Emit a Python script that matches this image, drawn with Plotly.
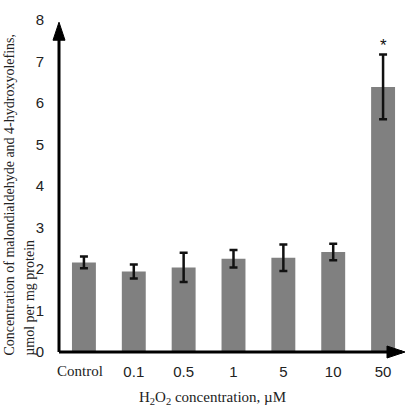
import plotly.graph_objects as go

categories = ["Control", "0.1", "0.5", "1", "5", "10", "50"]
values = [2.16, 1.94, 2.04, 2.25, 2.27, 2.41, 6.39]
errors = [0.14, 0.17, 0.35, 0.21, 0.32, 0.20, 0.78]
y_ticks = [0, 1, 2, 3, 4, 5, 6, 7, 8]
star_labels = ["", "", "", "", "", "", "*"]
serif_labels = ["Control"]

W, H = 408, 415
x_pos = list(range(len(categories)))
X_RANGE = [-0.5, 6.5]
Y_RANGE = [0, 8.1]

serif = "Liberation Serif, Times New Roman, serif"
sans = "Liberation Sans, Arial, sans-serif"

fig = go.Figure()
fig.add_trace(go.Bar(
    x=x_pos, y=values, width=0.48,
    marker=dict(color="#808080", line=dict(width=0)),
    error_y=dict(type="data", array=errors, visible=True, color="#111111", thickness=2.5, width=4),
    showlegend=False,
))


def px_x(v):
    return (v - X_RANGE[0]) / (X_RANGE[1] - X_RANGE[0])


def py_y(v):
    return (v - Y_RANGE[0]) / (Y_RANGE[1] - Y_RANGE[0])


annotations = []
for i, s in enumerate(star_labels):
    if s:
        annotations.append(dict(x=i, y=values[i] + errors[i], text=s, showarrow=False,
                                yanchor="bottom", yshift=-2, font=dict(family=sans, size=17, color="#111")))

tick_text = []
for i, c in enumerate(categories):
    if c in serif_labels:
        tick_text.append("")
        annotations.append(dict(xref="x", yref="paper", x=i - 0.08, y=-0.058, yanchor="middle",
                                showarrow=False, text=c,
                                font=dict(family=serif, size=15, color="#222")))
    else:
        tick_text.append(c)

# y-axis title (two left-aligned rotated lines)
annotations.append(dict(xref="paper", yref="paper", x=-0.141, y=-0.017, xanchor="center", yanchor="bottom",
                        textangle=-90, showarrow=False,
                        text="Concentration of malondialdehyde and 4-hydroxyolefins,",
                        font=dict(family=serif, size=14, color="#222")))
annotations.append(dict(xref="paper", yref="paper", x=-0.083, y=-0.017, xanchor="center", yanchor="bottom",
                        textangle=-90, showarrow=False,
                        text="\u00b5mol per mg protein",
                        font=dict(family=serif, size=14, color="#222")))
# x-axis title
annotations.append(dict(xref="paper", yref="paper", x=px_x(2.57), y=-0.137, xanchor="center", yanchor="middle",
                        showarrow=False,
                        text="H<sub>2</sub>O<sub>2</sub> concentration, \u00b5M",
                        font=dict(family=serif, size=15, color="#222")))

x0p, y0p = px_x(-0.5), py_y(0)
shapes = [
    dict(type="line", xref="paper", yref="paper", x0=x0p, x1=px_x(6.38), y0=y0p, y1=y0p,
         line=dict(color="#000", width=3)),
    dict(type="line", xref="paper", yref="paper", x0=x0p, x1=x0p, y0=y0p, y1=py_y(7.6),
         line=dict(color="#000", width=3)),
    dict(type="path", xref="paper", yref="paper", xsizemode="pixel", ysizemode="pixel",
         xanchor=x0p, yanchor=py_y(7.95), path="M0,0 L-6,-18 L6,-18 Z",
         fillcolor="#000", line=dict(color="#000", width=1)),
    dict(type="path", xref="paper", yref="paper", xsizemode="pixel", ysizemode="pixel",
         xanchor=px_x(6.44), yanchor=y0p, path="M0,0 L-18,6 L-18,-6 Z",
         fillcolor="#000", line=dict(color="#000", width=1)),
]

fig.update_layout(
    width=W, height=H,
    margin=dict(l=59, r=0, t=16, b=63),
    paper_bgcolor="white", plot_bgcolor="white",
    xaxis=dict(range=X_RANGE, tickvals=x_pos, ticktext=tick_text, showgrid=False, zeroline=False,
               showline=False, ticks="", ticklabelstandoff=9,
               tickfont=dict(family=sans, size=15, color="#222")),
    yaxis=dict(range=Y_RANGE, tickvals=y_ticks, showgrid=False, zeroline=False, showline=False,
               ticks="", ticklabelstandoff=14,
               tickfont=dict(family=sans, size=15, color="#222")),
    annotations=annotations,
    shapes=shapes,
)

fig.write_html("out.html", config={"displayModeBar": False},
               post_script="document.body.style.margin='0';document.body.style.padding='0';")
